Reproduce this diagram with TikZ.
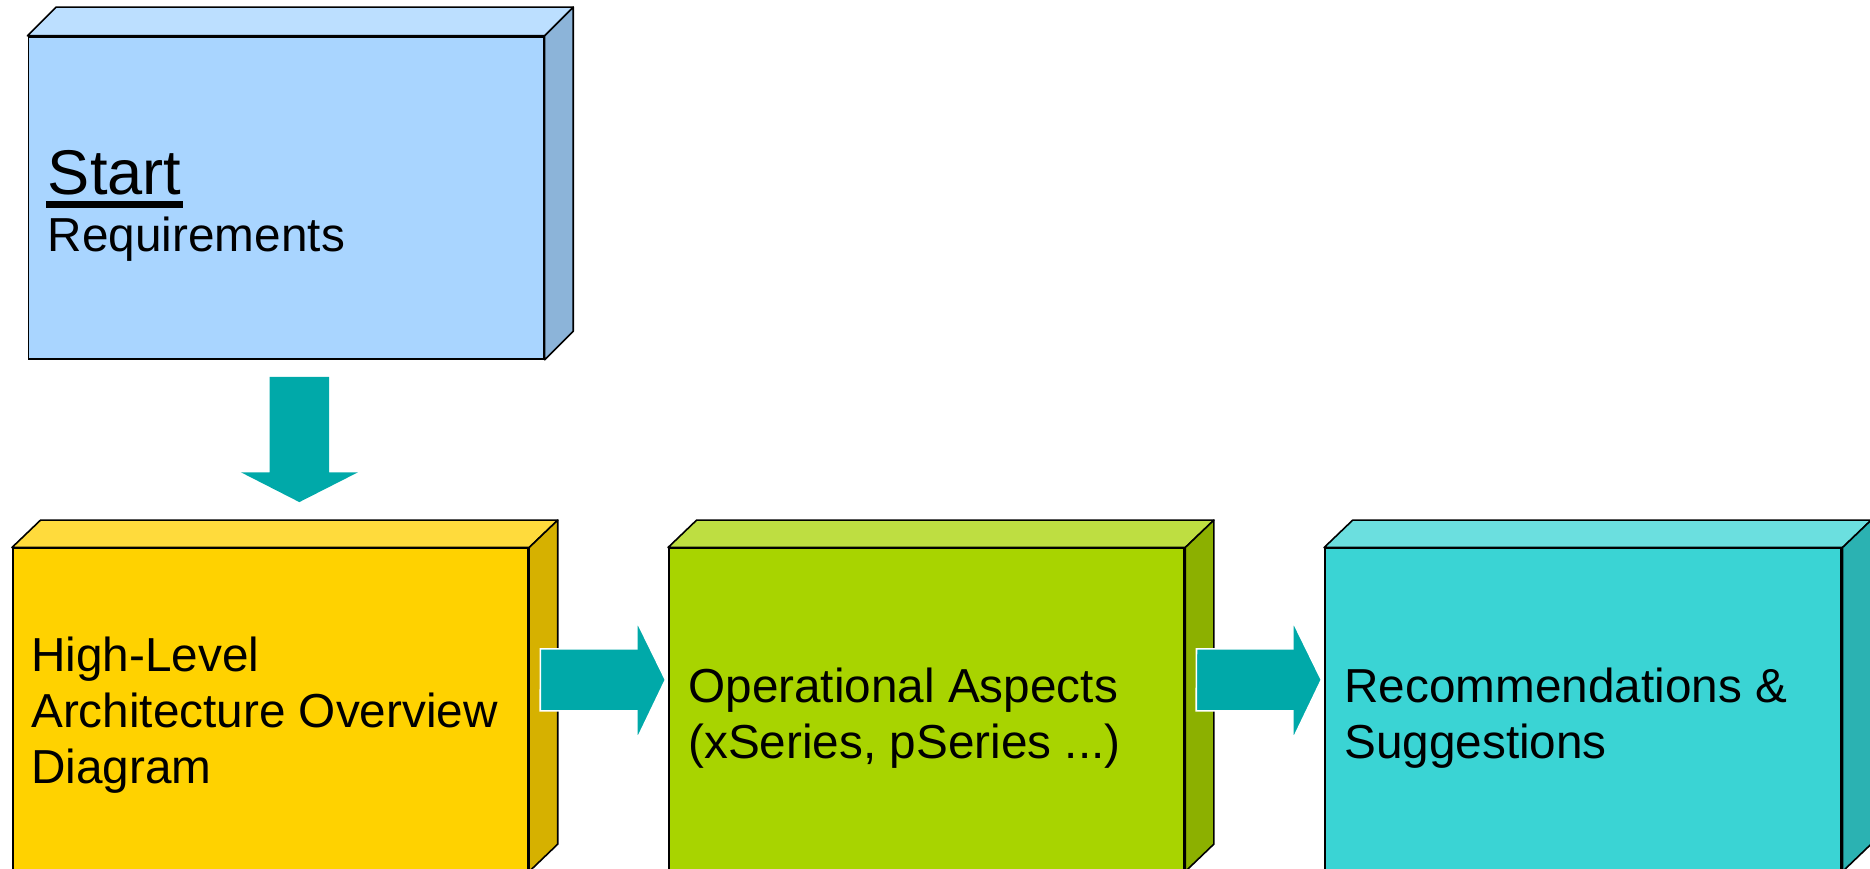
\documentclass[tikz,border=0pt]{standalone}
\usepackage{fontspec}
\setmainfont{Liberation Sans}
\usetikzlibrary{calc}
\definecolor{cAf}{HTML}{A9D5FF}
\definecolor{cAt}{HTML}{BCDFFF}
\definecolor{cAs}{HTML}{8CB4D9}
\definecolor{cBf}{HTML}{FFD200}
\definecolor{cBt}{HTML}{FFDB3C}
\definecolor{cBs}{HTML}{D6B100}
\definecolor{cCf}{HTML}{A8D400}
\definecolor{cCt}{HTML}{BEDE41}
\definecolor{cCs}{HTML}{8CB000}
\definecolor{cDf}{HTML}{3AD4D4}
\definecolor{cDt}{HTML}{6BDFDF}
\definecolor{cDs}{HTML}{2BB2B2}
\definecolor{teal1}{HTML}{00A9A9}
\tikzset{
  frontbox/.style={draw=black, line width=1.6pt, fill=#1, minimum width=432pt, minimum height=270pt, inner sep=0pt, anchor=north west},
  face/.style={draw=black, line width=1.6pt, fill=#1, line join=round},
  blockarrow/.style={fill=teal1, draw=white, line width=1.6pt, line join=miter},
  lbl/.style={font=\fontsize{40}{47}\selectfont, align=left, anchor=west, inner sep=0pt},
}
\begin{document}
\begin{tikzpicture}[x=1pt,y=-1pt,scale=1.19260,every node/.append style={transform shape}]
\useasboundingbox (0,0) rectangle (1568,728.65);
% top box
\node[frontbox=cAf] (req) at (23,30) {};
\draw[face=cAt] (req.north west) -- ++(24,-24) -- ($(req.north east)+(24,-24)$) -- (req.north east) -- cycle;
\draw[face=cAs] (req.north east) -- ++(24,-24) -- ($(req.south east)+(24,-24)$) -- (req.south east) -- cycle;
% yellow
\node[frontbox=cBf] (hla) at (10,459) {};
\draw[face=cBt] (hla.north west) -- ++(24,-23) -- ($(hla.north east)+(24,-23)$) -- (hla.north east) -- cycle;
\draw[face=cBs] (hla.north east) -- ++(24,-23) -- ($(hla.south east)+(24,-23)$) -- (hla.south east) -- cycle;
% green
\node[frontbox=cCf] (ops) at (560,459) {};
\draw[face=cCt] (ops.north west) -- ++(24,-23) -- ($(ops.north east)+(24,-23)$) -- (ops.north east) -- cycle;
\draw[face=cCs] (ops.north east) -- ++(24,-23) -- ($(ops.south east)+(24,-23)$) -- (ops.south east) -- cycle;
% cyan
\node[frontbox=cDf, minimum width=433pt] (rec) at (1110,459) {};
\draw[face=cDt] (rec.north west) -- ++(24,-23) -- ($(rec.north east)+(24,-23)$) -- (rec.north east) -- cycle;
\draw[face=cDs] (rec.north east) -- ++(24,-23) -- ($(rec.south east)+(24,-23)$) -- (rec.south east) -- cycle;
% texts
\node[anchor=base west, inner sep=0pt, font=\fontsize{53}{60}\selectfont] (st) at (40,163) {Start};
\draw[line width=6.5pt] ($(st.base west)+(-1.5,8.5)$) -- ($(st.base east)+(1,8.5)$);
\node[anchor=base west, inner sep=0pt, font=\fontsize{40}{47}\selectfont] (rq) at (40,211) {Requirements};
\node[lbl] (t1) at (26,600) {High-Level\\Architecture Overview\\Diagram};
\node[lbl] (t2) at (577,602) {Operational Aspects\\(xSeries, pSeries ...)};
\node[lbl] (t3) at (1127,602) {Recommendations \&\\Suggestions};
% arrows
\coordinate (a1) at (251,316);
\fill[teal1] (a1) ++(-25,0) -- ++(50,0) -- ++(0,80) -- ++(24,0) -- (251,421) -- (202,396) -- (226,396) -- cycle;
\coordinate (a2) at (453,544);
\draw[blockarrow] (a2) -- (534,544) -- (534,521) -- (558,570) -- (534,620) -- (534,596) -- (453,596) -- cycle;
\coordinate (a3) at (1003,544);
\draw[blockarrow] (a3) -- (1084,544) -- (1084,521) -- (1108,570) -- (1084,620) -- (1084,596) -- (1003,596) -- cycle;
\end{tikzpicture}
\end{document}
